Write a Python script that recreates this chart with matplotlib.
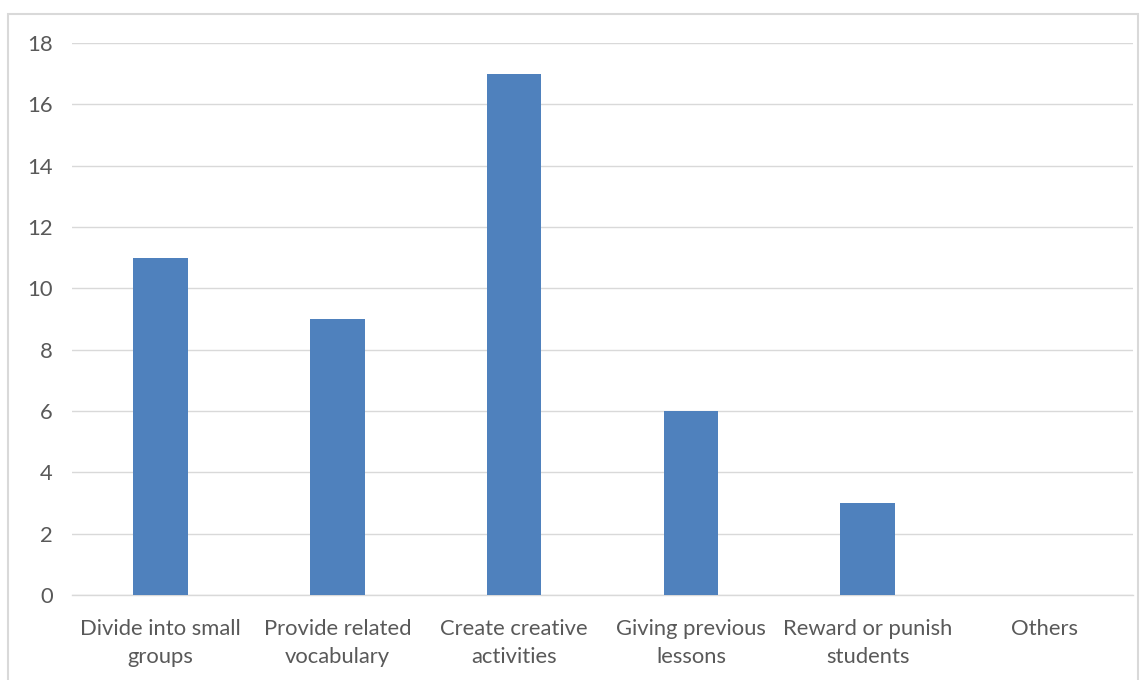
import matplotlib
matplotlib.use("Agg")
import matplotlib.pyplot as plt
from matplotlib.patches import Rectangle

# data
categories = ["Divide into small\ngroups", "Provide related\nvocabulary",
              "Create creative\nactivities", "Giving previous\nlessons",
              "Reward or punish\nstudents", "Others"]
counts = [11, 9, 17, 6, 3, 0]
yticks = [0, 2, 4, 6, 8, 10, 12, 14, 16, 18]

plt.rcParams['font.family'] = ['Lato', 'DejaVu Sans']

W, H = 1148, 680
fig = plt.figure(figsize=(W / 100, H / 100), dpi=100)
ax = fig.add_axes([72 / W, 1 - 595 / H, (1133 - 72) / W, (595 - 43) / H])

# outer chart border like excel
fig.patches.append(Rectangle((8 / W, -0.05), (1138 - 8) / W, 1.05 - 14 / H,
                             transform=fig.transFigure, fill=False,
                             edgecolor="#d9d9d9", linewidth=1.5, clip_on=False))

x = range(len(categories))
ax.bar(x, counts, width=0.31, color="#4f81bd", zorder=3)

ax.set_xlim(-0.5, len(categories) - 0.5)
ax.set_ylim(0, 18)
ax.set_yticks(yticks)
ax.set_xticks(list(x))
ax.set_xticklabels(categories, linespacing=1.5)
ax.grid(axis="y", color="#d9d9d9", linewidth=1, zorder=0)

for s in ["top", "right", "left"]:
    ax.spines[s].set_visible(False)
ax.spines["bottom"].set_color("#d9d9d9")
ax.spines["bottom"].set_linewidth(1)

ax.tick_params(axis="both", length=0, labelsize=15.8, labelcolor="#595959")
ax.tick_params(axis="y", pad=14)
ax.tick_params(axis="x", pad=17)

fig.savefig("out.png", dpi=100)
